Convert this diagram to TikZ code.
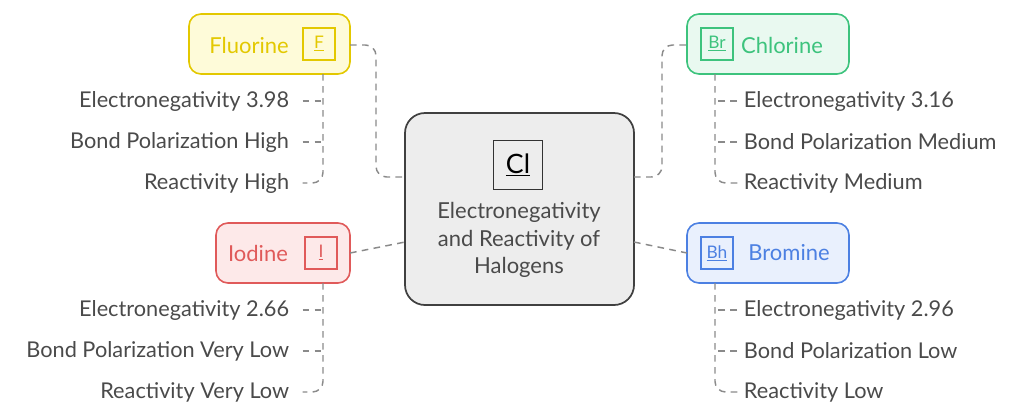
\documentclass[tikz,border=0pt]{standalone}
\usepackage{fontspec}
\setmainfont{Lato}
\usetikzlibrary{positioning}
\definecolor{linegray}{HTML}{8A8A8A}
\definecolor{textgray}{HTML}{4A4A4A}
\definecolor{flu}{HTML}{E3C800}\definecolor{fluback}{HTML}{FEFBD9}
\definecolor{chl}{HTML}{3DC37D}\definecolor{chlback}{HTML}{E9F9F0}
\definecolor{iod}{HTML}{E05A5A}\definecolor{iodback}{HTML}{FDE9E9}
\definecolor{bro}{HTML}{4C80E2}\definecolor{broback}{HTML}{E9F0FD}
\tikzset{
  elembox/.style={draw=#1, fill=#1back, line width=1.2pt, rounded corners=9pt},
  iconbox/.style={draw=#1, line width=1.1pt, minimum size=24pt, inner sep=0pt, font=\fontsize{13}{14}\selectfont},
  elemtext/.style={text=#1, font=\fontsize{16.5}{18}\selectfont},
  leaf/.style={text=textgray, font=\fontsize{16.3}{18}\selectfont, inner sep=2pt},
  conn/.style={draw=linegray, line width=1.1pt, dash pattern=on 5pt off 4pt, rounded corners=8pt},
}
\begin{document}
\begin{tikzpicture}[x=0.75pt,y=-0.75pt]
\useasboundingbox (0,0) rectangle (1024,419);
% Mitte
\draw[draw=black!75, fill=black!7, line width=1.3pt, rounded corners=15pt] (405,113) rectangle (634,305);
\node[iconbox=black!80, minimum size=37pt, font=\fontsize{20}{22}\selectfont] (clicon) at (518,165) {\underline{Cl}};
\node[text=textgray, align=center, font=\fontsize{16.5}{20.5}\selectfont] (title) at (519,240) {Electronegativity\\and Reactivity of\\Halogens};
\coordinate (cl) at (405,177); \coordinate (cr) at (634,177);
\coordinate (cll) at (405,242); \coordinate (crr) at (634,242);
% Elemente
\draw[elembox=flu] (189,14) rectangle (350,74);
\node[elemtext=flu] (fname) at (249,45) {Fluorine};
\node[iconbox=flu] (ficon) at (319,44) {\color{flu}\underline{F}};
\draw[elembox=chl] (687,14) rectangle (849,74);
\node[elemtext=chl] (cname) at (782,45) {Chlorine};
\node[iconbox=chl] (cicon) at (717,44) {\color{chl}\underline{Br}};
\draw[elembox=iod] (216,223) rectangle (350,283);
\node[elemtext=iod] (iname) at (258,253) {Iodine};
\node[iconbox=iod] (iicon) at (321,253) {\color{iod}\underline{I}};
\draw[elembox=bro] (687,223) rectangle (849,283);
\node[elemtext=bro] (bname) at (789,253) {Bromine};
\node[iconbox=bro] (bicon) at (717,253) {\color{bro}\underline{Bh}};
% Blaetter
\foreach \n/\y/\t in {f1/101/Electronegativity 3.98, f2/142/Bond Polarization High, f3/183/Reactivity High,
                      i1/310/Electronegativity 2.66, i2/351/Bond Polarization Very Low, i3/392/Reactivity Very Low}
  \node[leaf, anchor=east] (\n) at (292,\y) {\t};
\foreach \n/\y/\t in {c1/101/Electronegativity 3.16, c2/142/Bond Polarization Medium, c3/183/Reactivity Medium,
                      b1/310/Electronegativity 2.96, b2/351/Bond Polarization Low, b3/392/Reactivity Low}
  \node[leaf, anchor=west] (\n) at (741,\y) {\t};
% Verbindungen
\draw[conn] (350,45) -- (376,45) -- (376,177) -- (cl);
\draw[conn] (cr) -- (662,177) -- (662,45) -- (687,45);
\draw[conn] (350,253) -- (cll);
\draw[conn] (crr) -- (687,253);
\draw[conn, shorten >=8pt] (323,74) -- (323,183) -- (f3.east);
\draw[conn, shorten >=8pt] (323,283) -- (323,392) -- (i3.east);
\draw[conn] (715,74) -- (715,183) -- (c3.west);
\draw[conn] (715,283) -- (715,392) -- (b3.west);
\foreach \n in {f1,f2,i1,i2} \draw[conn, shorten <=8pt] (\n.east) -- (323,0 |- \n.east);
\foreach \n in {c1,c2,b1,b2} \draw[conn, shorten <=3pt] (\n.west) -- (715,0 |- \n.west);
\end{tikzpicture}
\end{document}
